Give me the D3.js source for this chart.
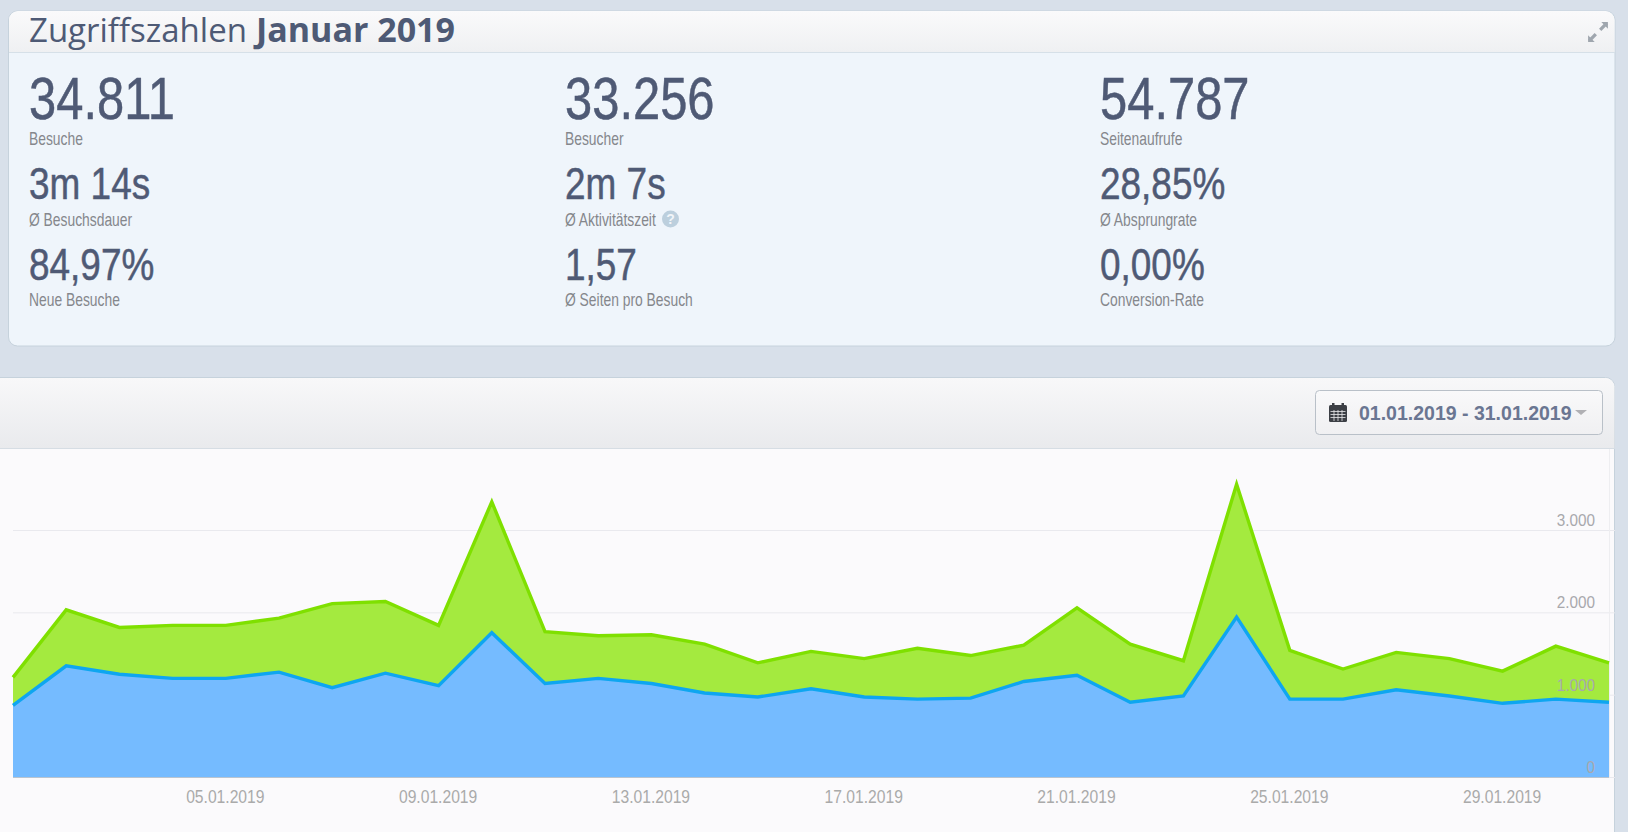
<!DOCTYPE html>
<html lang="de">
<head>
<meta charset="utf-8">
<title>Zugriffszahlen Januar 2019</title>
<script src="https://cdn.jsdelivr.net/npm/d3@7"></script>
<style>
  html, body { margin: 0; padding: 0; background: #d8e0ea; overflow: hidden; }
  svg { display: block; }
  text { font-family: "Liberation Sans", Arial, sans-serif; }
  .title { font-family: "Open Sans", sans-serif; fill: #4e5a75; }
  .axis text { font-family: "Liberation Sans", Arial, sans-serif; fill: #aaaaaa; font-size: 17px; }
  .axis .domain { display: none; }
</style>
</head>
<body>
<div id="chart"></div>
<script>
var days = d3.range(1, 32);
var seitenaufrufe = [1210, 2030, 1816, 1841, 1841, 1929, 2106, 2131, 1841, 3342, 1765, 1715, 1728, 1614, 1387, 1526,
    1438, 1564, 1475, 1601, 2055, 1614, 1412, 3556, 1538, 1311, 1513, 1438, 1286, 1589, 1387];
var besuche = [870, 1350, 1248, 1198, 1198, 1274, 1085, 1261, 1110, 1753, 1135, 1198, 1135, 1021, 971, 1072,
    971, 946, 958, 1160, 1236, 908, 984, 1942, 946, 946, 1059, 984, 895, 946, 908];
var yTicks = [0, 1000, 2000, 3000];
var xTickDays = [5, 9, 13, 17, 21, 25, 29];
var statValues = [["34.811", "33.256", "54.787"], ["3m 14s", "2m 7s", "28,85%"], ["84,97%", "1,57", "0,00%"]];
var statLabels = [["Besuche", "Besucher", "Seitenaufrufe"], ["Ø Besuchsdauer", "Ø Aktivitätszeit", "Ø Absprungrate"],
    ["Neue Besuche", "Ø Seiten pro Besuch", "Conversion-Rate"]];

var width = 1628, height = 832;
var svg = d3.select("#chart").append("svg").attr("width", width).attr("height", height);

var defs = svg.append("defs");
function gradient(id, top, bottom) {
    var g = defs.append("linearGradient").attr("id", id).attr("x1", 0).attr("x2", 0).attr("y1", 0).attr("y2", 1);
    g.append("stop").attr("offset", "0%").attr("stop-color", top);
    g.append("stop").attr("offset", "100%").attr("stop-color", bottom);
}
gradient("head1", "#fafafb", "#eff0f2");
gradient("head2", "#f8f8f9", "#e9eaed");
gradient("btn", "#f9f9fa", "#f0f0f2");

// top panel
svg.append("rect").attr("x", 8.5).attr("y", 11).attr("width", 1606.5).attr("height", 335).attr("rx", 9)
    .attr("fill", "#eff5fb").attr("stroke", "#c6d2dc");
svg.append("path").attr("d", "M9,52V20a9,9 0 0 1 9,-9H1605.5a9,9 0 0 1 9,9V52Z").attr("fill", "url(#head1)");
svg.append("line").attr("x1", 9).attr("x2", 1615).attr("y1", 52.5).attr("y2", 52.5).attr("stroke", "#d6e0e8");

var title = svg.append("text").attr("class", "title").attr("x", 29).attr("y", 42);
title.append("tspan").attr("font-size", 33).text("Zugriffszahlen");
title.append("tspan").attr("dx", 9).attr("font-size", 34).attr("font-weight", 700).text("Januar 2019");

// expand icon
var expand = svg.append("g").attr("transform", "translate(1598,32) scale(1.1)").attr("fill", "none").attr("stroke", "#9fa6ae");
expand.append("path").attr("d", "M-8,8L-2,2M2,-2L8,-8").attr("stroke-width", 3);
expand.append("path").attr("d", "M-9,3V9H-3ZM3,-9H9V-3Z").attr("fill", "#9fa6ae").attr("stroke", "none");

// stats
var colX = [29, 565, 1100];
var valueRows = [{ y: 119, size: 60, sx: 0.815 }, { y: 199, size: 44, sx: 0.84 }, { y: 280, size: 44, sx: 0.84 }];
var labelY = [144.5, 225.5, 305.5];

statValues.forEach(function (row, r) {
    row.forEach(function (v, c) {
        svg.append("text")
            .attr("transform", `translate(${colX[c]},${valueRows[r].y}) scale(${valueRows[r].sx},1)`)
            .attr("font-size", valueRows[r].size)
            .attr("fill", "#4f5a75")
            .attr("stroke", "#4f5a75")
            .attr("stroke-width", 0.5)
            .text(v);
        svg.append("text")
            .attr("transform", `translate(${colX[c]},${labelY[r]}) scale(0.77,1)`)
            .attr("font-size", 18)
            .attr("fill", "#85878c")
            .text(statLabels[r][c]);
    });
});

// help icon next to Aktivitätszeit
svg.append("circle").attr("cx", 670.5).attr("cy", 219).attr("r", 8.5).attr("fill", "#bccfdd");
svg.append("text").attr("x", 670.5).attr("y", 224).attr("text-anchor", "middle").attr("font-size", 14)
    .attr("font-weight", 700).attr("fill", "#f1f5f9").text("?");

// bottom panel
svg.append("path").attr("d", "M-5,377.5H1605.5a9,9 0 0 1 9,9V840H-5Z").attr("fill", "#fbfafc").attr("stroke", "#c6d2dc");
svg.append("path").attr("d", "M-5,378H1605.5a9,9 0 0 1 9,9V448H-5Z").attr("fill", "url(#head2)");
svg.append("line").attr("x1", 0).attr("x2", 1615).attr("y1", 448.5).attr("y2", 448.5).attr("stroke", "#d6dde4");

// date button
svg.append("rect").attr("x", 1315.5).attr("y", 390.5).attr("width", 287).attr("height", 44).attr("rx", 4)
    .attr("fill", "url(#btn)").attr("stroke", "#b9c0c8");
var cal = svg.append("g").attr("transform", "translate(1329,403)").attr("fill", "#3c3f45");
cal.append("rect").attr("y", 2).attr("width", 18).attr("height", 17).attr("rx", 1.5);
cal.append("rect").attr("x", 3).attr("width", 2.5).attr("height", 4);
cal.append("rect").attr("x", 12.5).attr("width", 2.5).attr("height", 4);
cal.append("path").attr("d", "M1.5,8.5H16.5M1.5,11.5H16.5M1.5,14.5H16.5M5,7V18M9,7V18M13,7V18")
    .attr("stroke", "#e8e9eb").attr("stroke-width", 0.8);
svg.append("text").attr("x", 1359).attr("y", 420).attr("font-size", 19.5).attr("font-weight", 700)
    .attr("fill", "#6a7692").text("01.01.2019 - 31.01.2019");
svg.append("path").attr("d", "M1575,410H1587L1581,415Z").attr("fill", "#b0b0b4");

// chart
var x = d3.scaleLinear().domain([1, 31]).range([13, 1609]);
var y = d3.scaleLinear().domain([0, 3000]).range([777, 530]);
var num = d3.formatLocale({ decimal: ",", thousands: ".", grouping: [3], currency: ["", "€"] }).format(",d");

var yAxis = svg.append("g").attr("class", "axis")
    .attr("transform", `translate(${x.range()[0]},0)`)
    .call(d3.axisRight(y).tickValues(yTicks).tickFormat(num).tickSize(1602).tickPadding(0));
yAxis.selectAll("line").attr("stroke", "#e9e9ee");
yAxis.selectAll("text").remove();

svg.append("line").attr("x1", 1609.5).attr("x2", 1609.5).attr("y1", 449).attr("y2", 777).attr("stroke", "#eeeef1");

var area = d3.area().x(function (d, i) { return x(days[i]); }).y0(y(0)).y1(function (d) { return y(d); });
var line = d3.line().x(function (d, i) { return x(days[i]); }).y(function (d) { return y(d); });

svg.append("path").datum(seitenaufrufe).attr("d", area).attr("fill", "#a4ea3f");
svg.append("path").datum(seitenaufrufe).attr("d", line).attr("fill", "none").attr("stroke", "#7fe000").attr("stroke-width", 3.4);
svg.append("path").datum(besuche).attr("d", area).attr("fill", "#75bbff");
svg.append("path").datum(besuche).attr("d", line).attr("fill", "none").attr("stroke", "#0ea6f0").attr("stroke-width", 3.4);
svg.append("line").attr("x1", 13).attr("x2", 1609).attr("y1", 777.5).attr("y2", 777.5).attr("stroke", "#b9c4d0");

// axis labels sit on top of the areas
var yLabels = svg.append("g").selectAll("text").data(yTicks).join("text")
    .attr("transform", function (d) { return `translate(1595,${y(d) - 4}) scale(0.9,1)`; })
    .attr("text-anchor", "end").attr("font-size", 17).attr("fill", "#a8a8ac").text(num);

var xAxis = svg.append("g").attr("class", "axis")
    .attr("transform", "translate(0,777)")
    .call(d3.axisBottom(x).tickValues(xTickDays).tickSize(0)
        .tickFormat(function (d) { return d3.format("02")(d) + ".01.2019"; }));
xAxis.selectAll("text")
    .attr("y", 0)
    .attr("dy", 0)
    .attr("transform", "translate(-1,26) scale(0.87,1)")
    .style("font-size", "18px");
</script>
</body>
</html>
